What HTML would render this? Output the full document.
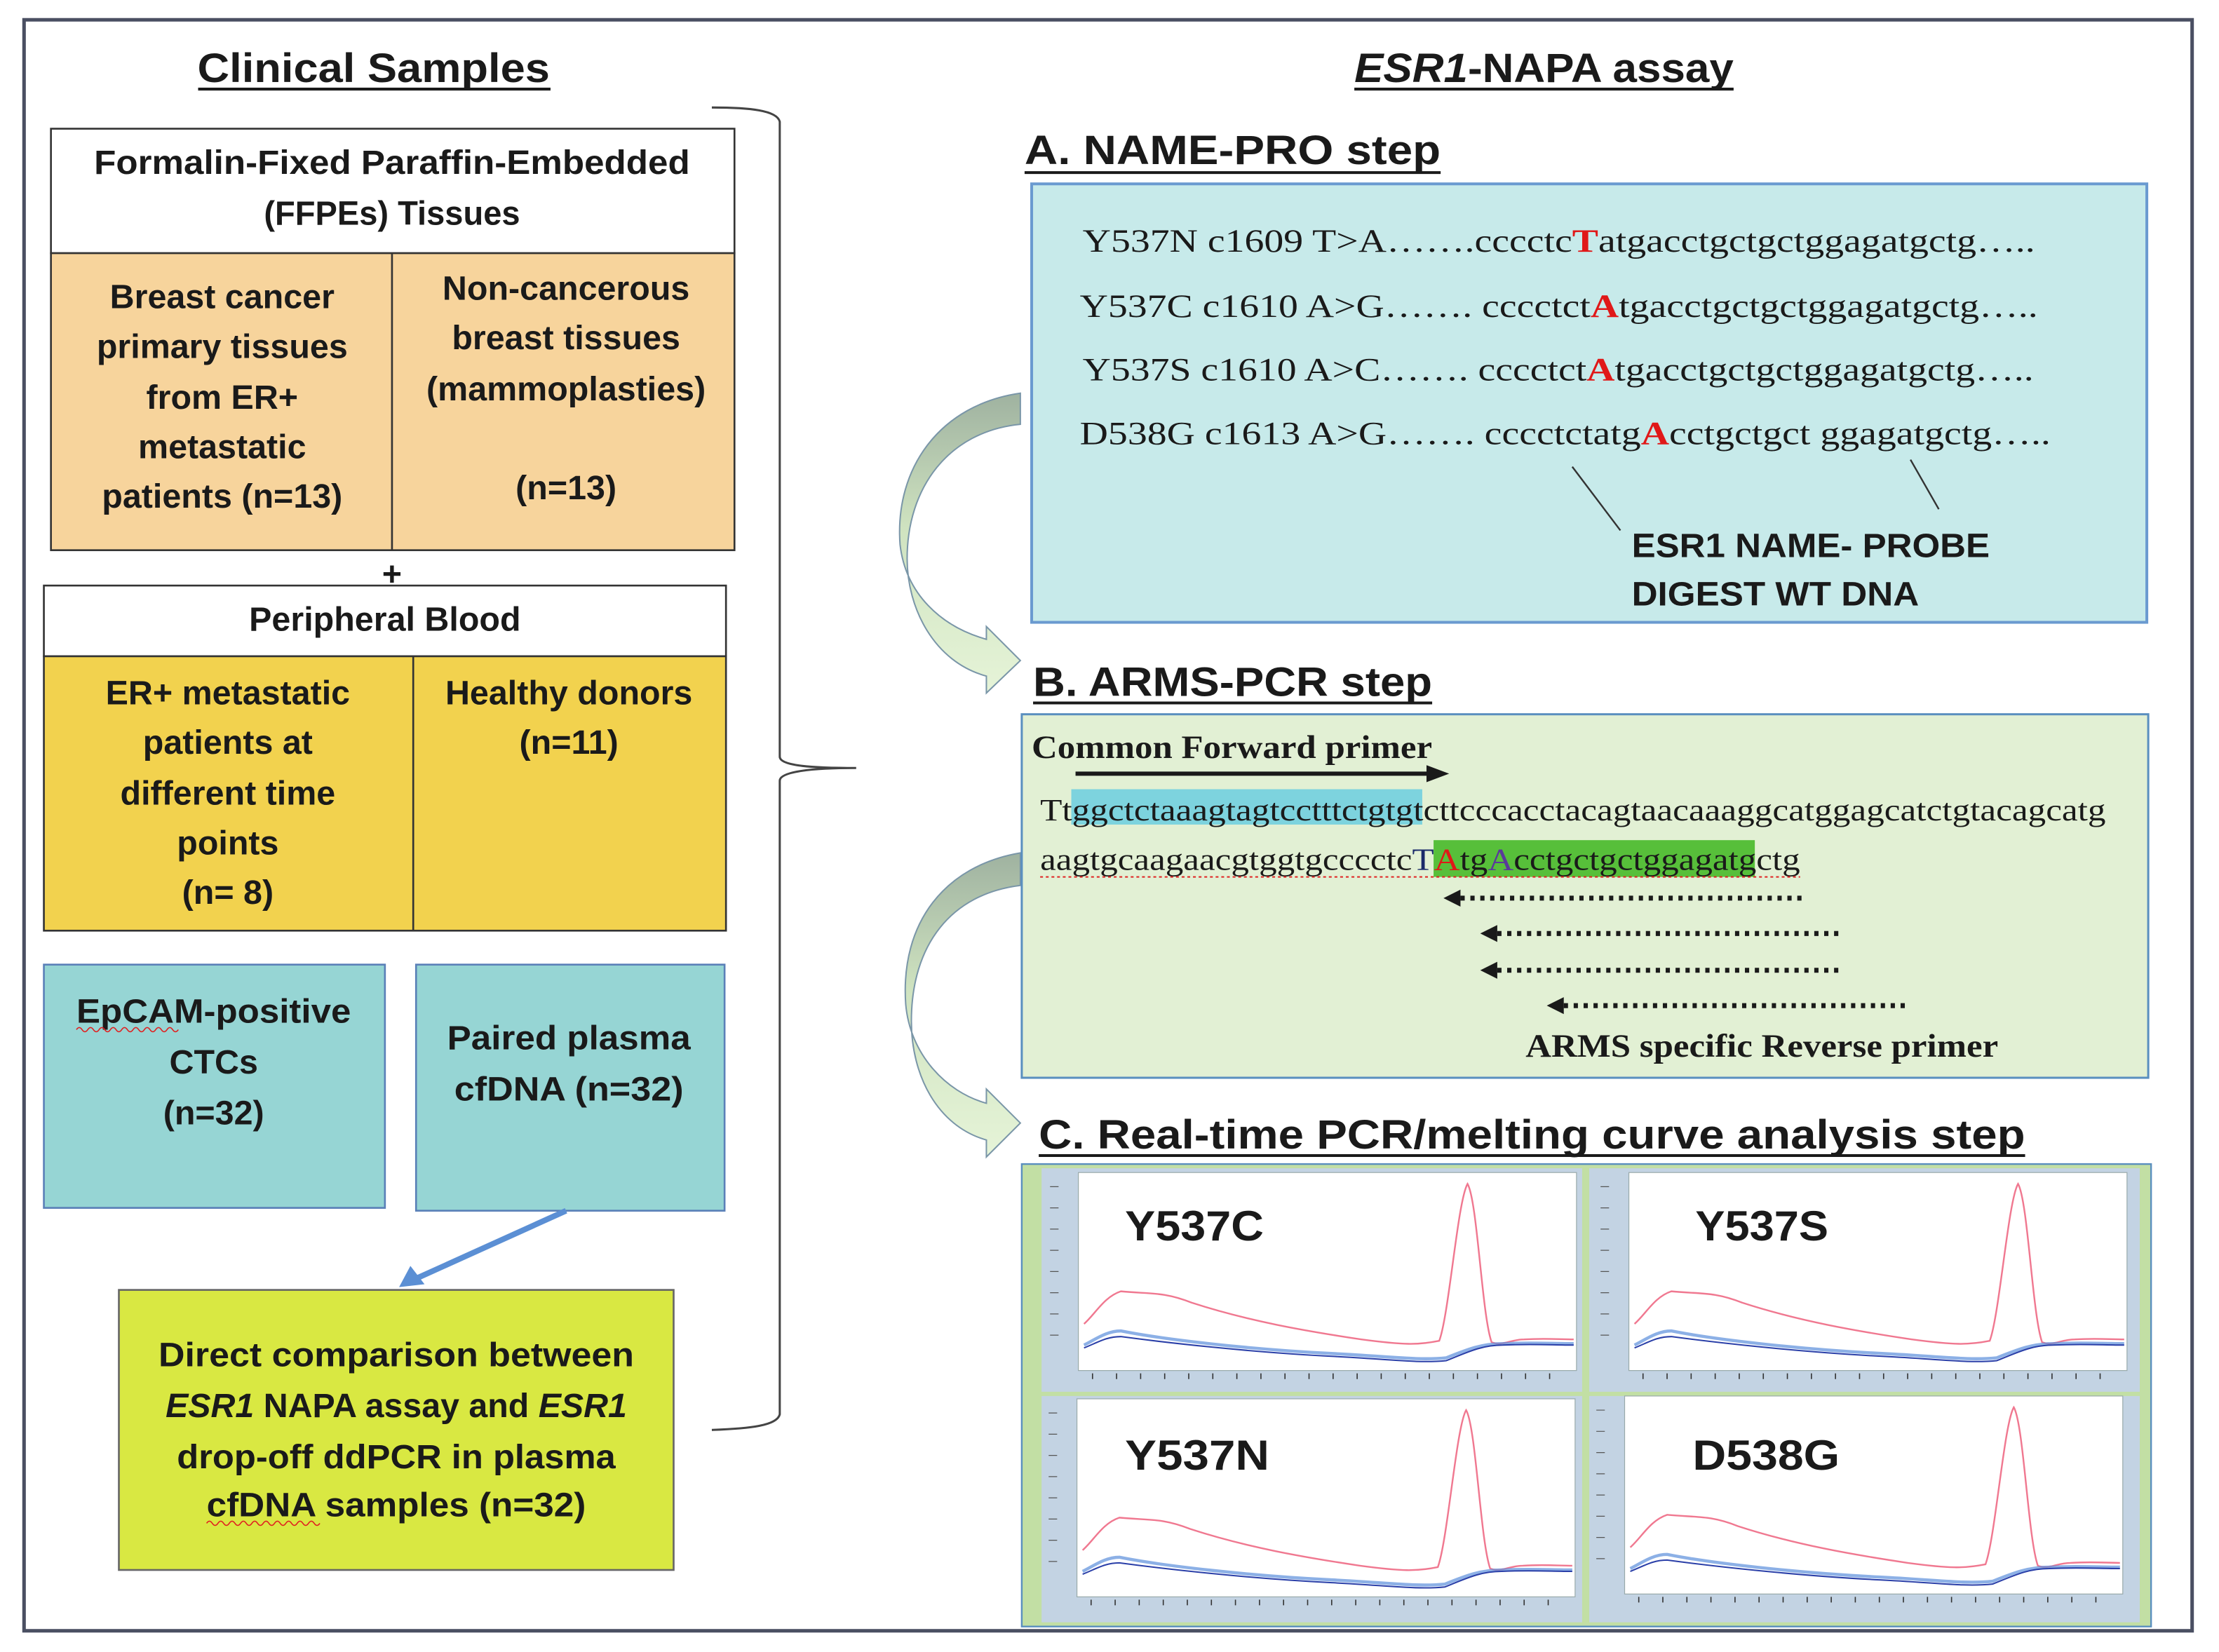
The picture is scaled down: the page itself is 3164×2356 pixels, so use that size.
<!DOCTYPE html>
<html><head><meta charset="utf-8"><style>
html,body{margin:0;padding:0;background:#fff;}
svg{display:block;}
.s{font-family:"Liberation Sans",sans-serif;font-weight:bold;fill:#1a1a1a;}
.r{font-family:"Liberation Serif",serif;fill:#1a1a1a;}
</style></head><body>
<svg width="3164" height="2356" viewBox="0 0 1568 1168" preserveAspectRatio="none" xmlns="http://www.w3.org/2000/svg">
<defs>
<linearGradient id="ga" x1="0" y1="0" x2="0" y2="1">
<stop offset="0" stop-color="#9fb2a0"/><stop offset="0.45" stop-color="#cfe3c0"/><stop offset="1" stop-color="#e6f4d8"/>
</linearGradient>
<g id="plot">
<rect x="0" y="0" width="352" height="140" fill="#fff" stroke="#9aa" stroke-width="0.6"/>
<path d="M4,107 C12,100 18,88 30,84 C50,86 60,84 80,92 C120,105 160,112 200,118 C230,122 240,122 255,119 C262,100 268,20 275,8 C282,20 285,100 292,120 C300,123 305,118 315,118 C330,117 340,118 350,118" fill="none" stroke="#f07890" stroke-width="1.2"/>
<path d="M4,122 C12,118 20,112 30,112 C60,118 120,125 180,128 C220,130 240,133 260,131 C275,125 285,121 300,121 C320,120 335,121 350,121" fill="none" stroke="#5b8fdc" stroke-width="2.2" opacity="0.7"/>
<path d="M4,124 C14,120 20,116 30,116 C60,120 120,127 180,130 C220,132 240,135 260,133 C275,127 285,122 300,122 C320,121 335,122 350,122" fill="none" stroke="#2a3fa8" stroke-width="1"/>
<g stroke="#333" stroke-width="0.8">
<path d="M10,142v4M27,142v4M44,142v4M61,142v4M78,142v4M95,142v4M112,142v4M129,142v4M146,142v4M163,142v4M180,142v4M197,142v4M214,142v4M231,142v4M248,142v4M265,142v4M282,142v4M299,142v4M316,142v4M333,142v4"/>
</g>
<g stroke="#555" stroke-width="0.6"><path d="M-20,10h6M-20,25h6M-20,40h6M-20,55h6M-20,70h6M-20,85h6M-20,100h6M-20,115h6"/></g>
</g>
</defs>
<rect x="0" y="0" width="1568" height="1168" fill="#fff"/>
<rect x="17" y="14" width="1532" height="1139" fill="none" stroke="#4a4f62" stroke-width="2.5"/>

<text class="s" x="264" y="58" font-size="29" text-anchor="middle" textLength="249" lengthAdjust="spacingAndGlyphs">Clinical Samples</text>
<line x1="140" y1="63" x2="389" y2="63" stroke="#1a1a1a" stroke-width="2"/>

<rect x="36" y="91" width="483" height="88" fill="#fff" stroke="#333" stroke-width="1.3"/>
<text class="s" x="277" y="123" font-size="24" text-anchor="middle" textLength="421" lengthAdjust="spacingAndGlyphs">Formalin-Fixed Paraffin-Embedded</text>
<text class="s" x="277" y="159" font-size="24" text-anchor="middle" textLength="181" lengthAdjust="spacingAndGlyphs">(FFPEs) Tissues</text>
<rect x="36" y="179" width="483" height="210" fill="#f7d49c" stroke="#333" stroke-width="1.3"/>
<line x1="277" y1="179" x2="277" y2="389" stroke="#333" stroke-width="1.3"/>
<g class="s" font-size="24" text-anchor="middle">
<text x="157" y="218">Breast cancer</text>
<text x="157" y="253">primary tissues</text>
<text x="157" y="289">from ER+</text>
<text x="157" y="324">metastatic</text>
<text x="157" y="359">patients (n=13)</text>
<text x="400" y="212">Non-cancerous</text>
<text x="400" y="247">breast tissues</text>
<text x="400" y="283">(mammoplasties)</text>
<text x="400" y="353">(n=13)</text>
</g>
<text class="s" x="277" y="414" font-size="24" text-anchor="middle">+</text>

<rect x="31" y="414" width="482" height="50" fill="#fff" stroke="#333" stroke-width="1.3"/>
<text class="s" x="272" y="446" font-size="24" text-anchor="middle">Peripheral Blood</text>
<rect x="31" y="464" width="482" height="194" fill="#f2d24e" stroke="#333" stroke-width="1.3"/>
<line x1="292" y1="464" x2="292" y2="658" stroke="#333" stroke-width="1.3"/>
<g class="s" font-size="24" text-anchor="middle">
<text x="161" y="498">ER+ metastatic</text>
<text x="161" y="533">patients at</text>
<text x="161" y="569">different time</text>
<text x="161" y="604">points</text>
<text x="161" y="639">(n= 8)</text>
<text x="402" y="498">Healthy donors</text>
<text x="402" y="533">(n=11)</text>
</g>

<rect x="31" y="682" width="241" height="172" fill="#96d5d4" stroke="#5a80b8" stroke-width="1.3"/>
<rect x="294" y="682" width="218" height="174" fill="#96d5d4" stroke="#5a80b8" stroke-width="1.3"/>
<g class="s" font-size="24" text-anchor="middle">
<text x="151" y="723" textLength="194" lengthAdjust="spacingAndGlyphs">EpCAM-positive</text>
<text x="151" y="759">CTCs</text>
<text x="151" y="795">(n=32)</text>
<text x="402" y="742" textLength="172" lengthAdjust="spacingAndGlyphs">Paired plasma</text>
<text x="402" y="778" textLength="162" lengthAdjust="spacingAndGlyphs">cfDNA (n=32)</text>
</g>
<path d="M54,728 q2,-3 4,0 t4,0 t4,0 t4,0 t4,0 t4,0 t4,0 t4,0 t4,0 t4,0 t4,0 t4,0 t4,0 t4,0 t4,0 t4,0 t4,0 t4,0" fill="none" stroke="#e02020" stroke-width="0.8"/>

<line x1="400" y1="856" x2="294" y2="904" stroke="#5b8fd4" stroke-width="4"/>
<polygon points="282,910 290,895 300,908" fill="#5b8fd4"/>

<rect x="84" y="912" width="392" height="198" fill="#d9e842" stroke="#666" stroke-width="1.3"/>
<g class="s" font-size="24" text-anchor="middle">
<text x="280" y="966" textLength="336" lengthAdjust="spacingAndGlyphs">Direct comparison between</text>
<text x="280" y="1002" textLength="326" lengthAdjust="spacingAndGlyphs"><tspan font-style="italic">ESR1</tspan> NAPA assay and <tspan font-style="italic">ESR1</tspan></text>
<text x="280" y="1038" textLength="310" lengthAdjust="spacingAndGlyphs">drop-off ddPCR in plasma</text>
<text x="280" y="1072" textLength="268" lengthAdjust="spacingAndGlyphs">cfDNA samples (n=32)</text>
</g>
<path d="M146,1077 q2,-3 4,0 t4,0 t4,0 t4,0 t4,0 t4,0 t4,0 t4,0 t4,0 t4,0 t4,0 t4,0 t4,0 t4,0 t4,0 t4,0 t4,0 t4,0 t4,0 t4,0" fill="none" stroke="#e02020" stroke-width="0.8"/>

<path d="M503,76 C530,76 549,78 551,86 L551,535 C551,541 570,543 605,543 C570,543 551,546 551,552 L551,1000 C549,1008 530,1010 503,1011" fill="none" stroke="#444" stroke-width="1.5"/>

<text class="s" x="1091" y="58" font-size="29" text-anchor="middle" textLength="268" lengthAdjust="spacingAndGlyphs"><tspan font-style="italic">ESR1</tspan>-NAPA assay</text>
<line x1="957" y1="63" x2="1225" y2="63" stroke="#1a1a1a" stroke-width="2"/>

<text class="s" x="724" y="116" font-size="29" textLength="294" lengthAdjust="spacingAndGlyphs">A. NAME-PRO step</text>
<line x1="724" y1="122" x2="1018" y2="122" stroke="#1a1a1a" stroke-width="2"/>
<rect x="729" y="130" width="788" height="310" fill="#c7eaea" stroke="#6a9ad0" stroke-width="2"/>
<g class="r" font-size="23">
<text x="765" y="178" textLength="673" lengthAdjust="spacingAndGlyphs">Y537N c1609 T&gt;A…….cccctc<tspan fill="#e01818" font-weight="bold">T</tspan>atgacctgctgctggagatgctg…..</text>
<text x="763" y="224" textLength="677" lengthAdjust="spacingAndGlyphs">Y537C c1610 A&gt;G……. cccctct<tspan fill="#e01818" font-weight="bold">A</tspan>tgacctgctgctggagatgctg…..</text>
<text x="765" y="269" textLength="672" lengthAdjust="spacingAndGlyphs">Y537S c1610 A&gt;C……. cccctct<tspan fill="#e01818" font-weight="bold">A</tspan>tgacctgctgctggagatgctg…..</text>
<text x="763" y="314" textLength="686" lengthAdjust="spacingAndGlyphs">D538G c1613 A&gt;G……. cccctctatg<tspan fill="#e01818" font-weight="bold">A</tspan>cctgctgct  ggagatgctg…..</text>
</g>
<line x1="1111" y1="330" x2="1145" y2="375" stroke="#333" stroke-width="1.2"/>
<line x1="1350" y1="325" x2="1370" y2="360" stroke="#333" stroke-width="1.2"/>
<text class="s" x="1153" y="394" font-size="24" textLength="253" lengthAdjust="spacingAndGlyphs">ESR1 NAME- PROBE</text>
<text class="s" x="1153" y="428" font-size="24" textLength="203" lengthAdjust="spacingAndGlyphs">DIGEST WT DNA</text>

<path d="M721,278 C665,286 632,330 636,385 C640,420 665,443 697,452 L697,443 L721,467 L697,490 L697,478 C660,468 641,430 641,395 C641,345 670,305 721,300 Z" fill="url(#ga)" stroke="#7a96a8" stroke-width="1"/>
<path d="M721,603 C668,612 636,652 640,710 C643,745 668,772 697,780 L697,770 L721,794 L697,818 L697,806 C662,796 644,760 644,722 C644,668 672,632 721,626 Z" fill="url(#ga)" stroke="#7a96a8" stroke-width="1"/>

<text class="s" x="730" y="492" font-size="29" textLength="282" lengthAdjust="spacingAndGlyphs">B. ARMS-PCR step</text>
<line x1="730" y1="497" x2="1012" y2="497" stroke="#1a1a1a" stroke-width="2"/>
<rect x="722" y="505" width="796" height="257" fill="#e2f0d4" stroke="#5a8fbf" stroke-width="1.5"/>
<text class="r" x="729" y="536" font-size="23" font-weight="bold" textLength="283" lengthAdjust="spacingAndGlyphs">Common Forward primer</text>
<line x1="760" y1="547" x2="1010" y2="547" stroke="#1a1a1a" stroke-width="3"/>
<polygon points="1024,547 1008,541 1008,553" fill="#1a1a1a"/>
<rect x="757" y="558" width="248" height="25" fill="#7dd3de"/>
<rect x="1013" y="594" width="227" height="26" fill="#57bf3a"/>
<text class="r" x="735" y="580" font-size="22" textLength="753" lengthAdjust="spacingAndGlyphs">Ttggctctaaagtagtcctttctgtgtcttcccacctacagtaacaaaggcatggagcatctgtacagcatg</text>
<text class="r" x="735" y="615" font-size="22" textLength="537" lengthAdjust="spacingAndGlyphs">aagtgcaagaacgtggtgcccctc<tspan fill="#1a2a6a">T</tspan><tspan fill="#e01818">A</tspan>tg<tspan fill="#5a3a9a">A</tspan>cctgctgctggagatgctg</text>
<path d="M735,620 h537" fill="none" stroke="#e02020" stroke-width="1" stroke-dasharray="2,2"/>
<g stroke="#1a1a1a" stroke-width="3.5" stroke-dasharray="3,4">
<line x1="1032" y1="635" x2="1275" y2="635"/>
<line x1="1058" y1="660" x2="1300" y2="660"/>
<line x1="1058" y1="686" x2="1302" y2="686"/>
<line x1="1105" y1="711" x2="1348" y2="711"/>
</g>
<g fill="#1a1a1a">
<polygon points="1020,635 1032,629 1032,641"/>
<polygon points="1046,660 1058,654 1058,666"/>
<polygon points="1046,686 1058,680 1058,692"/>
<polygon points="1093,711 1105,705 1105,717"/>
</g>
<text class="r" x="1078" y="747" font-size="23" font-weight="bold" textLength="334" lengthAdjust="spacingAndGlyphs">ARMS specific Reverse primer</text>

<text class="s" x="734" y="812" font-size="29" textLength="697" lengthAdjust="spacingAndGlyphs">C. Real-time PCR/melting curve analysis step</text>
<line x1="734" y1="817" x2="1431" y2="817" stroke="#1a1a1a" stroke-width="2"/>
<rect x="722" y="823" width="798" height="327" fill="#c2dfa4" stroke="#5a8fbf" stroke-width="1.2"/>
<rect x="736" y="826" width="382" height="158" fill="#c3d3e3"/>
<rect x="1123" y="826" width="389" height="158" fill="#c3d3e3"/>
<rect x="736" y="987" width="382" height="160" fill="#c3d3e3"/>
<rect x="1123" y="987" width="389" height="160" fill="#c3d3e3"/>
<use href="#plot" transform="translate(762,829)"/>
<use href="#plot" transform="translate(1151,829)"/>
<use href="#plot" transform="translate(761,989)"/>
<use href="#plot" transform="translate(1148,987)"/>
<g class="s" font-size="30">
<text x="795" y="877" textLength="98" lengthAdjust="spacingAndGlyphs">Y537C</text>
<text x="1198" y="877" textLength="94" lengthAdjust="spacingAndGlyphs">Y537S</text>
<text x="795" y="1039" textLength="102" lengthAdjust="spacingAndGlyphs">Y537N</text>
<text x="1196" y="1039" textLength="104" lengthAdjust="spacingAndGlyphs">D538G</text>
</g>
</svg>
</body></html>
